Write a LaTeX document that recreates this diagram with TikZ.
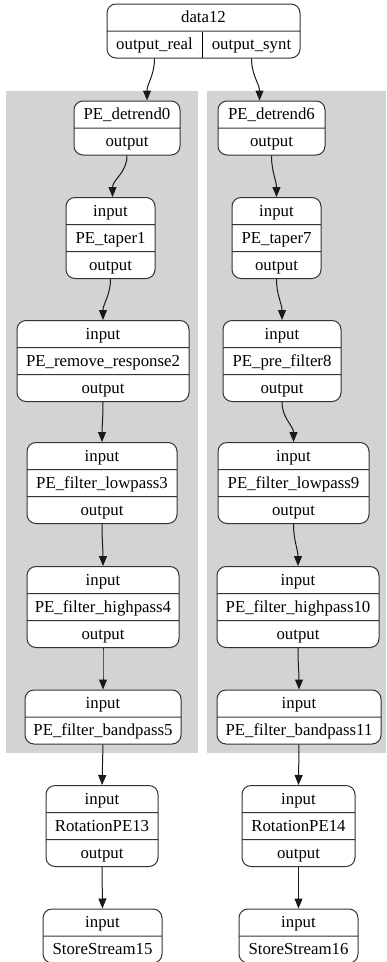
\documentclass[tikz,border=0pt]{standalone}
\usepackage{fontspec}
\setmainfont{Liberation Serif}
\usepackage{tikz}
\usetikzlibrary{arrows.meta,shapes.multipart}

\newcommand{\fld}[1]{\rule[-8pt]{0pt}{26pt}#1}
\newcommand{\recfont}{\fontsize{16.8}{18}\selectfont}
\definecolor{clustergray}{HTML}{D3D3D3}

\tikzset{
  rec/.style={rectangle split,rectangle split draw splits,draw=black!80,fill=white,
    rounded corners=9pt,line width=1pt,inner xsep=0pt,inner ysep=0pt,
    align=center,font=\recfont,text width=#1},
  rec2/.style={rec=#1,rectangle split parts=2},
  rec3/.style={rec=#1,rectangle split parts=3},
  edge/.style={-{Triangle[length=10pt,width=8pt]},line width=1pt,draw=black!90},
}

\begin{document}
\begin{tikzpicture}[x=1pt,y=-1pt]
\useasboundingbox (0,0) rectangle (386,962);
% clusters
\fill[clustergray] (6,91) rectangle (198,753);
\fill[clustergray] (207,91) rectangle (386,753);

% source
\node[rec2=193pt] (data12) at (203.5,31) {\fld{data12}\nodepart{two}\makebox[95pt]{\fld{output\_real}}\rule[-8pt]{1pt}{26pt}\makebox[97pt]{output\_synt}};
\coordinate (data12real) at ([xshift=-49pt]data12.south);
\coordinate (data12synt) at ([xshift=48pt]data12.south);

% left chain
\node[rec2=106pt] (detrend0) at (127,128) {\fld{PE\_detrend0}\nodepart{two}\fld{output}};
\node[rec3=89pt] (taper1) at (110.5,238) {\fld{input}\nodepart{two}\fld{PE\_taper1}\nodepart{three}\fld{output}};
\node[rec3=172pt] (remove2) at (103,361) {\fld{input}\nodepart{two}\fld{PE\_remove\_response2}\nodepart{three}\fld{output}};
\node[rec3=150pt] (lowpass3) at (102,483) {\fld{input}\nodepart{two}\fld{PE\_filter\_lowpass3}\nodepart{three}\fld{output}};
\node[rec3=152pt] (highpass4) at (103,607) {\fld{input}\nodepart{two}\fld{PE\_filter\_highpass4}\nodepart{three}\fld{output}};
\node[rec2=156pt] (bandpass5) at (103,717) {\fld{input}\nodepart{two}\fld{PE\_filter\_bandpass5}};

% right chain
\node[rec2=107pt] (detrend6) at (271.5,128) {\fld{PE\_detrend6}\nodepart{two}\fld{output}};
\node[rec3=89pt] (taper7) at (276.5,238) {\fld{input}\nodepart{two}\fld{PE\_taper7}\nodepart{three}\fld{output}};
\node[rec3=118pt] (prefilter8) at (282,361) {\fld{input}\nodepart{two}\fld{PE\_pre\_filter8}\nodepart{three}\fld{output}};
\node[rec3=151pt] (lowpass9) at (293.5,483) {\fld{input}\nodepart{two}\fld{PE\_filter\_lowpass9}\nodepart{three}\fld{output}};
\node[rec3=162pt] (highpass10) at (298,607) {\fld{input}\nodepart{two}\fld{PE\_filter\_highpass10}\nodepart{three}\fld{output}};
\node[rec2=164pt] (bandpass11) at (299,717) {\fld{input}\nodepart{two}\fld{PE\_filter\_bandpass11}};

% outside the clusters
\node[rec3=112pt] (rotation13) at (102,826) {\fld{input}\nodepart{two}\fld{RotationPE13}\nodepart{three}\fld{output}};
\node[rec2=119pt] (store15) at (102.5,936) {\fld{input}\nodepart{two}\fld{StoreStream15}};
\node[rec3=113pt] (rotation14) at (298.5,826) {\fld{input}\nodepart{two}\fld{RotationPE14}\nodepart{three}\fld{output}};
\node[rec2=119pt] (store16) at (298.5,936) {\fld{input}\nodepart{two}\fld{StoreStream16}};

% edges
\draw[edge] (data12real) to[out=-90,in=90] ([xshift=20pt]detrend0.north);
\draw[edge] (data12synt) to[out=-90,in=90] ([xshift=-12pt]detrend6.north);
\draw[edge] (detrend0.south) to[out=-90,in=90] ([xshift=2pt]taper1.north);
\draw[edge] (taper1.south) to[out=-90,in=90] (remove2.north);
\draw[edge] (remove2.south) to[out=-90,in=90] (lowpass3.north);
\draw[edge] (lowpass3.south) to[out=-90,in=90] (highpass4.north);
\draw[edge] (highpass4.south) to[out=-90,in=90] (bandpass5.north);
\draw[edge] (bandpass5.south) -- (rotation13.north);
\draw[edge] (rotation13.south) -- (store15.north);
\draw[edge] (detrend6.south) to[out=-90,in=90] (taper7.north);
\draw[edge] (taper7.south) to[out=-90,in=90] (prefilter8.north);
\draw[edge] (prefilter8.south) to[out=-90,in=90] (lowpass9.north);
\draw[edge] (lowpass9.south) to[out=-90,in=90] (highpass10.north);
\draw[edge] (highpass10.south) to[out=-90,in=90] (bandpass11.north);
\draw[edge] (bandpass11.south) -- (rotation14.north);
\draw[edge] (rotation14.south) -- (store16.north);
\end{tikzpicture}
\end{document}
